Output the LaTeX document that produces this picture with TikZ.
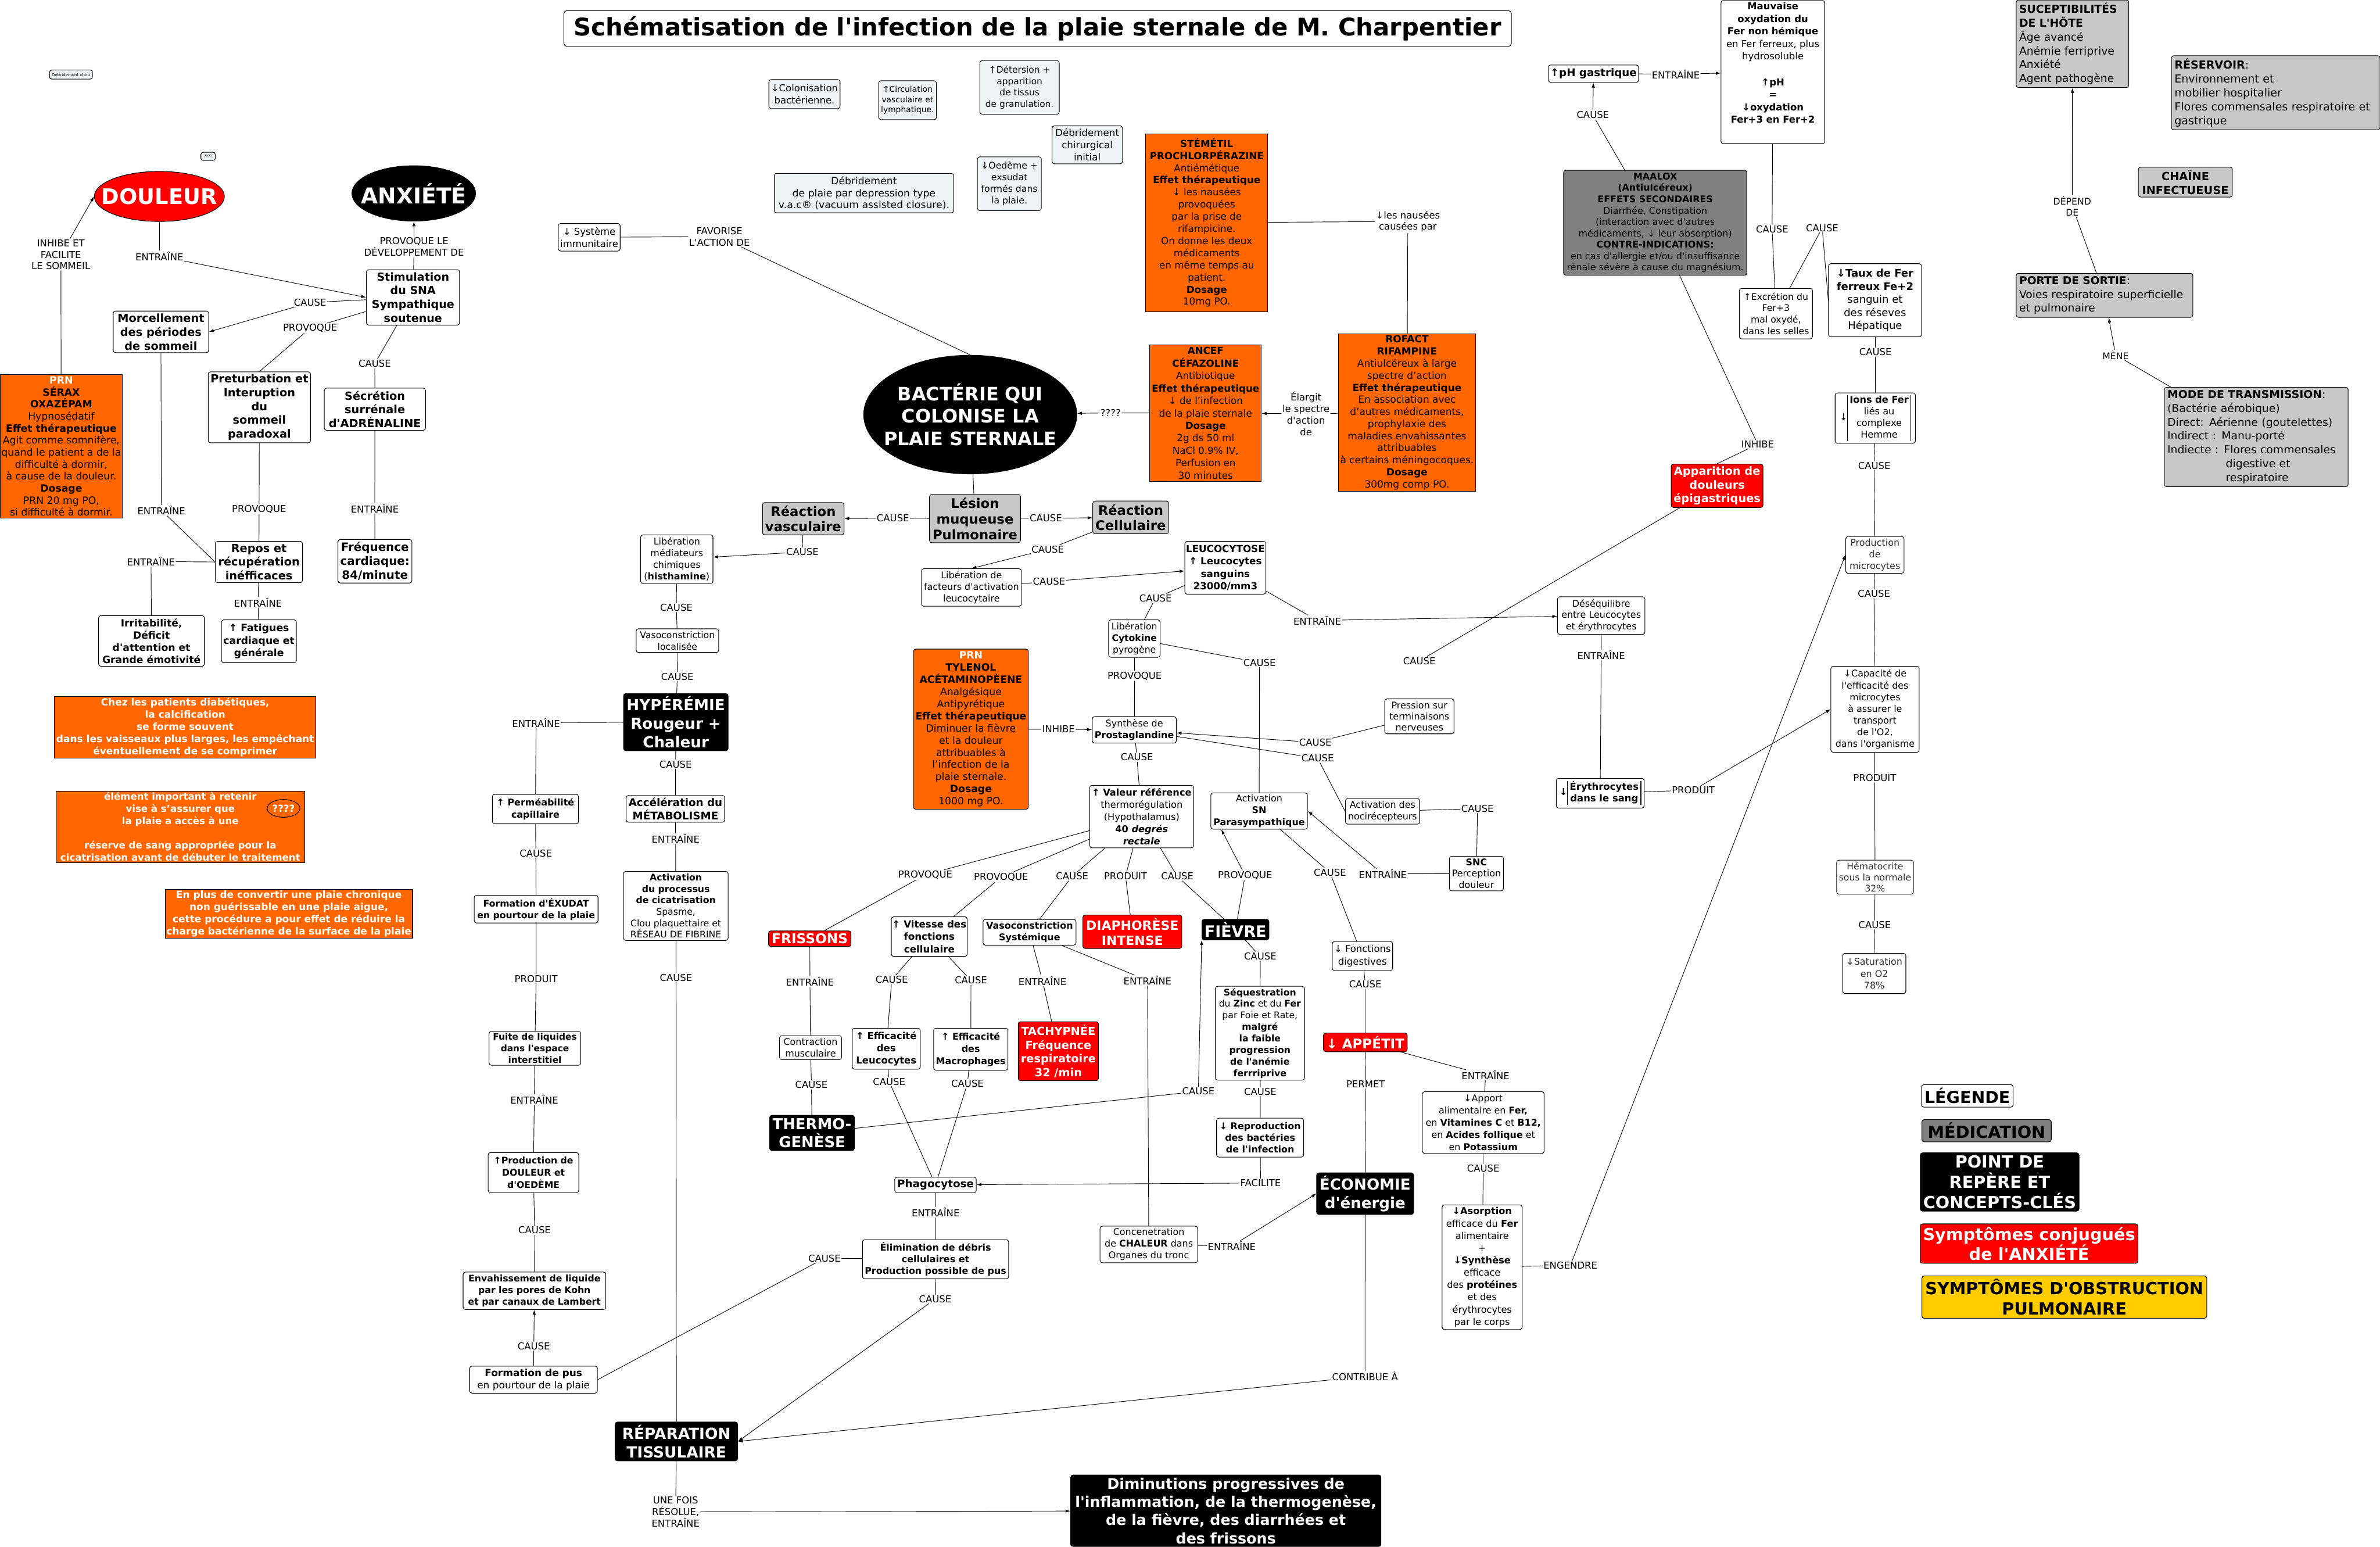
\documentclass[tikz,border=0pt]{standalone}
\usepackage{fontspec}
\setmainfont{DejaVu Sans}[Ligatures=TeXOff]
\usetikzlibrary{arrows.meta,shapes.geometric}
\newcommand\myfs[2]{\fontsize{#1}{#2}\selectfont}
\definecolor{orangeF}{HTML}{FF6600}
\definecolor{redF}{HTML}{FF0000}
\definecolor{grayC}{HTML}{C8C8C8}
\definecolor{grayD}{HTML}{808080}
\definecolor{lightbg}{HTML}{EEF4F6}
\definecolor{yellowF}{HTML}{FFCC00}
\definecolor{txtgray}{HTML}{333333}
\begin{document}
\begin{tikzpicture}[x=1pt,y=-1pt,
 box/.style={draw=black,line width=0.4pt,rounded corners=1.5pt,fill=white,inner sep=0.5pt,align=center},
 lbox/.style={box,fill=lightbg},
 gbox/.style={box,fill=grayC},
 obox/.style={box,fill=orangeF,rounded corners=0pt},
 kbox/.style={box,fill=black,text=white},
 rbox/.style={box,fill=redF,text=white},
 ell/.style={ellipse,draw=black,line width=0.4pt,inner ysep=0pt,inner xsep=-9pt,align=center},
 lab/.style={fill=white,inner sep=0.4pt,align=center,font=\myfs{6.3}{7.6}},
 con/.style={line width=0.35pt,draw=black},
 arr/.style={con,-{Latex[length=3.2pt,width=2.2pt]}}]
\useasboundingbox (0,0) rectangle (1568,1019);
\fill[white] (0,0) rectangle (1568,1019);

% ---------- title and tiny boxes
\node[box,rounded corners=2pt,minimum width=624.2,minimum height=23.6,font=\myfs{16}{19}\bfseries] (title) at (683.6,18.8) {Schématisation de l'infection de la plaie sternale de M. Charpentier};
\node[lbox,minimum width=28.3,minimum height=6.1,font=\myfs{2.7}{3.2}] (debchiru) at (46.8,49.1) {Débridement chiru};
\node[lbox,minimum width=9.5,minimum height=5.4,font=\myfs{2.5}{3}] (qqa) at (137.1,103) {????};

% ---------- ellipses
\node[ell,fill=redF,text=white,minimum width=85.7,minimum height=33,font=\myfs{14.1}{16}\bfseries] (douleur) at (105,129.4) {DOULEUR};
\node[ell,fill=black,text=white,minimum width=81.5,minimum height=36.5,font=\myfs{14.4}{16}\bfseries] (anxiete) at (272.6,127.4) {ANXIÉTÉ};
\node[ell,fill=black,text=white,minimum width=140.4,minimum height=78.2,font=\myfs{12.2}{14.8}\bfseries] (bact) at (639.2,273.1) {BACTÉRIE QUI\\COLONISE LA\\PLAIE STERNALE};

% ---------- left column
\node[box,minimum width=61.4,minimum height=36.5,font=\myfs{7.3}{9.1}\bfseries] (stim) at (272.1,195.9) {Stimulation\\du SNA\\Sympathique\\soutenue};
\node[box,minimum width=62.9,minimum height=27.4,font=\myfs{7.4}{9.1}\bfseries] (morc) at (106,218.6) {Morcellement\\des périodes\\de sommeil};
\node[box,minimum width=67.5,minimum height=46.7,font=\myfs{7.4}{9.1}\bfseries] (pret) at (170.9,268.3) {Preturbation et\\Interuption\\du\\sommeil\\paradoxal};
\node[box,minimum width=66.7,minimum height=27.8,font=\myfs{7.4}{9.1}\bfseries] (secr) at (247,269.6) {Sécrétion\\surrénale\\d'ADRÉNALINE};
\node[obox,minimum width=80.7,minimum height=94.8,font=\myfs{6.6}{7.9}] (prnserax) at (40.35,294) {\textcolor{white}{\textbf{PRN}}\\\textbf{SÉRAX}\\\textbf{OXAZÉPAM}\\Hypnosédatif\\\textbf{Effet thérapeutique}\\Agit comme somnifère,\\quand le patient a de la\\difficulté à dormir,\\à cause de la douleur.\\\textbf{Dosage}\\PRN 20 mg PO,\\si difficulté à dormir.};
\node[box,minimum width=57.4,minimum height=27.2,font=\myfs{7.4}{9.1}\bfseries] (repos) at (170.6,370.2) {Repos et\\récupération\\inéfficaces};
\node[box,minimum width=48.7,minimum height=28.7,font=\myfs{7.6}{9.1}\bfseries] (freq) at (247,369.7) {Fréquence\\cardiaque:\\84/minute};
\node[box,minimum width=69.7,minimum height=33.4,font=\myfs{6.6}{8}\bfseries] (irrit) at (99.8,422.2) {Irritabilité,\\Déficit\\d'attention et\\Grande émotivité};
\node[box,minimum width=49.4,minimum height=28.2,font=\myfs{6.6}{8.2}\bfseries] (fatig) at (170.6,422.4) {↑ Fatigues\\cardiaque et\\générale};
\node[obox,text=white,minimum width=172.2,minimum height=40.6,font=\myfs{6.5}{8}\bfseries] (note1) at (122,479) {Chez les patients diabétiques,\\la calcification\\se forme souvent\\dans les vaisseaux plus larges, les empêchant\\éventuellement de se comprimer};
\node[obox,text=white,minimum width=163.7,minimum height=47.1,font=\myfs{6.35}{8}\bfseries] (note2) at (118.8,544.6) {élément important à retenir\\vise à s’assurer que\\la plaie a accès à une\\[8pt]réserve de sang appropriée pour la\\cicatrisation avant de débuter le traitement};
\node[ellipse,draw=black,line width=0.4pt,inner sep=-3pt,minimum width=21.6,minimum height=11.7,text=white,font=\myfs{6.4}{7}\bfseries] (qqb) at (186.8,532.5) {????};
\node[obox,text=white,minimum width=163,minimum height=32.3,font=\myfs{6.5}{8}\bfseries] (note3) at (190.3,602) {En plus de convertir une plaie chronique\\non guérissable en une plaie aigue,\\cette procédure a pour effet de réduire la\\charge bactérienne de la surface de la plaie};

% ---------- top middle
\node[box,minimum width=40.7,minimum height=18.2,font=\myfs{6.3}{8}] (sys) at (388.2,156.3) {↓ Système\\immunitaire};
\node[lbox,minimum width=46.9,minimum height=19.1,font=\myfs{6.3}{8.2}] (colon) at (530,62) {↓Colonisation\\bactérienne.};
\node[lbox,minimum width=38.1,minimum height=25.6,font=\myfs{5.3}{6.8}] (circ) at (597.9,66) {↑Circulation\\vasculaire et\\lymphatique.};
\node[lbox,minimum width=52.3,minimum height=35.4,font=\myfs{5.9}{7.6}] (deters) at (671.7,57.6) {↑Détersion +\\apparition\\de tissus\\de granulation.};
\node[lbox,minimum width=46.4,minimum height=25,font=\myfs{6.4}{8}] (debinit) at (716.3,95.4) {Débridement\\chirurgical\\initial};
\node[lbox,minimum width=42.1,minimum height=35.4,font=\myfs{6}{7.6}] (oedeme) at (665,121) {↓Oedème +\\exsudat\\formés dans\\la plaie.};
\node[lbox,minimum width=118.1,minimum height=26,font=\myfs{6.6}{8}] (vac) at (569.2,127.2) {Débridement\\de plaie par depression type\\v.a.c® (vacuum assisted closure).};
\node[obox,minimum width=80.5,minimum height=117.1,font=\myfs{6.4}{8}] (stem) at (795,146.65) {\textbf{STÉMÉTIL}\\\textbf{PROCHLORPÉRAZINE}\\Antiémétique\\\textbf{Effet thérapeutique}\\↓ les nausées\\provoquées\\par la prise de\\rifampicine.\\On donne les deux\\médicaments\\en même temps au\\patient.\\\textbf{Dosage}\\10mg PO.};
\node[obox,minimum width=73.5,minimum height=90.1,font=\myfs{6.4}{8.2}] (ancef) at (794.25,272.15) {\textbf{ANCEF}\\\textbf{CÉFAZOLINE}\\Antibiotique\\\textbf{Effet thérapeutique}\\↓ de l’infection\\de la plaie sternale\\\textbf{Dosage}\\2g ds 50 ml\\NaCl 0.9\% IV,\\Perfusion en\\30 minutes};
\node[obox,minimum width=90.5,minimum height=103.8,font=\myfs{6.5}{7.95}] (rofact) at (926.95,271.8) {\textbf{ROFACT}\\\textbf{RIFAMPINE}\\Antiulcéreux à large\\spectre d’action\\\textbf{Effet thérapeutique}\\En association avec\\d’autres médicaments,\\prophylaxie des\\maladies envahissantes\\attribuables\\à certains méningocoques.\\\textbf{Dosage}\\300mg comp PO.};

% ---------- top right
\node[box,minimum width=59.4,minimum height=11.5,font=\myfs{7}{8}\bfseries] (ph) at (1049.8,48.55) {↑pH gastrique};
\node[box,minimum width=68.3,minimum height=94.3,font=\myfs{6.3}{8.2}] (mauv) at (1168,47.5) {\textbf{Mauvaise}\\\textbf{oxydation du}\\\textbf{Fer non hémique}\\en Fer ferreux, plus\\hydrosoluble\\[9pt]\textbf{↑pH}\\\textbf{=}\\\textbf{↓oxydation}\\\textbf{Fer+3 en Fer+2}\\[4pt]~};
\node[box,fill=grayD,minimum width=120.8,minimum height=69.1,font=\myfs{6.1}{7.5}] (maalox) at (1090.5,146.75) {\textbf{MAALOX}\\\textbf{(Antiulcéreux)}\\\textbf{EFFETS SECONDAIRES}\\Diarrhée, Constipation\\(interaction avec d'autres\\médicaments, ↓ leur absorption)\\\textbf{CONTRE-INDICATIONS:}\\en cas d'allergie et/ou d'insuffisance\\rénale sévère à cause du magnésium.};
\node[box,minimum width=48.3,minimum height=33.2,font=\myfs{6}{7.6}] (excr) at (1170,206.6) {↑Excrétion du\\Fer+3\\mal oxydé,\\dans les selles};
\node[box,minimum width=61.2,minimum height=48.2,font=\myfs{6.9}{8.6}] (taux) at (1235.3,197.8) {\textbf{↓Taux de Fer}\\\textbf{ferreux Fe+2}\\sanguin et\\des réseves\\Hépatique};
\node[box,minimum width=52.9,minimum height=33.2,font=\myfs{6.2}{7.6}] (ions) at (1235.45,275.4) {↓\setlength{\tabcolsep}{1.5pt}\begin{tabular}{|c|}\textbf{Ions de Fer}\\liés au\\complexe\\Hemme\end{tabular}};
\node[rbox,minimum width=60.5,minimum height=28.6,font=\myfs{7.4}{9.1}\bfseries] (appar) at (1131.25,320) {Apparition de\\douleurs\\épigastriques};
\node[gbox,text width=70.2,inner sep=2pt,minimum height=57.7,align=left,font=\myfs{7.2}{9.1}] (suscept) at (1365.4,28.85) {\textbf{SUCEPTIBILITÉS}\\\textbf{DE L'HÔTE}\\Âge avancé\\Anémie ferriprive\\Anxiété\\Agent pathogène};
\node[gbox,text width=133.4,inner sep=2pt,minimum height=48.8,align=left,font=\myfs{7.3}{9.1}] (reserv) at (1499.3,61.1) {\textbf{RÉSERVOIR}:\\Environnement et\\mobilier hospitalier\\Flores commensales respiratoire et\\gastrique};
\node[gbox,minimum width=61.9,minimum height=19.7,font=\myfs{7.4}{9.1}\bfseries] (chaine) at (1439.75,119.95) {CHAÎNE\\INFECTUEUSE};
\node[gbox,text width=112.4,inner sep=2pt,minimum height=28.7,align=left,font=\myfs{7.15}{9.1}] (porte) at (1386.5,194.55) {\textbf{PORTE DE SORTIE}:\\Voies respiratoire superficielle\\et pulmonaire};
\node[gbox,text width=117.1,inner sep=2pt,minimum height=65.1,align=left,font=\myfs{7.2}{9.1}] (mode) at (1486.45,287.85) {\textbf{MODE DE TRANSMISSION}:\\(Bactérie aérobique)\\Direct: Aérienne (goutelettes)\\Indirect : Manu-porté\\Indiecte : Flores commensales\\\hspace*{38.5pt}digestive et\\\hspace*{38.5pt}respiratoire};
\node[box,text=txtgray,minimum width=38.4,minimum height=24.3,font=\myfs{6.1}{7.6}] (prodmicro) at (1235.2,365.55) {Production\\de\\microcytes};
\node[box,minimum width=58.2,minimum height=56.7,font=\myfs{6.1}{7.7}] (capac) at (1235.3,467.25) {↓Capacité de\\l'efficacité des\\microcytes\\à assurer le\\transport\\de l'O2,\\dans l'organisme};
\node[box,text=txtgray,minimum width=50.6,minimum height=22.4,font=\myfs{6}{7.4}] (hemato) at (1235.3,577.8) {Hématocrite\\sous la normale\\32\%};
\node[box,text=txtgray,minimum width=41.6,minimum height=26.5,font=\myfs{6.1}{8}] (satur) at (1234.8,641.25) {↓Saturation\\en O2\\78\%};

% ---------- centre
\node[gbox,minimum width=59.9,minimum height=31.8,font=\myfs{8.7}{10.4}\bfseries] (lesion) at (642.35,341.6) {Lésion\\muqueuse\\Pulmonaire};
\node[gbox,minimum width=53.7,minimum height=21.3,font=\myfs{8.7}{10}\bfseries] (rvasc) at (529.2,341.7) {Réaction\\vasculaire};
\node[gbox,minimum width=49.9,minimum height=21.6,font=\myfs{8.7}{10}\bfseries] (rcell) at (744.9,340.8) {Réaction\\Cellulaire};
\node[box,minimum width=47.6,minimum height=32.1,font=\myfs{6.1}{7.6}] (lmed) at (445.9,368.35) {Libération\\médiateurs\\chimiques\\(\textbf{histhamine})};
\node[box,minimum width=54.4,minimum height=15.6,font=\myfs{6}{7.5}] (vasoloc) at (446.3,422) {Vasoconstriction\\localisée};
\node[kbox,minimum width=68.9,minimum height=37.6,font=\myfs{10}{12.2}\bfseries] (hyper) at (445.25,475.7) {HYPÉRÉMIE\\Rougeur +\\Chaleur};
\node[box,minimum width=64.9,minimum height=17.6,font=\myfs{7}{8.5}\bfseries] (accel) at (445,532.8) {Accélération du\\MÉTABOLISME};
\node[box,minimum width=68.9,minimum height=45.5,font=\myfs{6}{7.5}] (activ) at (445.25,596.75) {\textbf{Activation}\\\textbf{du processus}\\\textbf{de cicatrisation}\\Spasme,\\Clou plaquettaire et\\RÉSEAU DE FIBRINE};
\node[box,minimum width=56.7,minimum height=19.5,font=\myfs{6.1}{8.2}\bfseries] (perm) at (352.75,532.95) {↑ Perméabilité\\capillaire};
\node[box,minimum width=81.6,minimum height=18.2,font=\myfs{6}{7.6}\bfseries] (exud) at (353.2,598.9) {Formation d'ÉXUDAT\\en pourtour de la plaie};
\node[box,minimum width=60.4,minimum height=22.3,font=\myfs{5.9}{7.6}\bfseries] (fuite) at (352.4,690.55) {Fuite de liquides\\dans l'espace\\interstitiel};
\node[box,minimum width=59.7,minimum height=26.4,font=\myfs{6}{7.9}\bfseries] (prodoul) at (351.45,772.4) {↑Production de\\DOULEUR et\\d'OEDÈME};
\node[box,minimum width=94,minimum height=24.7,font=\myfs{6}{7.6}\bfseries] (envah) at (352.1,850.25) {Envahissement de liquide\\par les pores de Kohn\\et par canaux de Lambert};
\node[box,minimum width=84.2,minimum height=17.8,font=\myfs{6.5}{8}] (pus) at (351.5,908.8) {\textbf{Formation de pus}\\en pourtour de la plaie};
\node[box,minimum width=65.9,minimum height=24.7,font=\myfs{6.1}{7.6}] (lfact) at (640,387) {Libération de\\facteurs d'activation\\leucocytaire};
\node[box,minimum width=53.4,minimum height=34.8,font=\myfs{6.4}{8.2}\bfseries] (leuco) at (807.3,374) {LEUCOCYTOSE\\↑ Leucocytes\\sanguins\\23000/mm3};
\node[box,minimum width=33.9,minimum height=24.7,font=\myfs{6}{7.6}] (cyto) at (747.35,420.65) {Libération\\\textbf{Cytokine}\\pyrogène};
\node[box,minimum width=55.4,minimum height=17.4,font=\myfs{6.1}{7.6}] (synth) at (747.3,480.8) {Synthèse de\\\textbf{Prostaglandine}};
\node[box,rounded corners=1.5pt,fill=orangeF,minimum width=75.7,minimum height=105.5,font=\myfs{6.6}{8}] (tyl) at (639.65,480.35) {\textcolor{white}{\textbf{PRN}}\\\textbf{TYLENOL}\\\textbf{ACÉTAMINOPÈENE}\\Analgésique\\Antipyrétique\\\textbf{Effet thérapeutique}\\Diminuer la fièvre\\et la douleur\\attribuables à\\l’infection de la\\plaie sternale.\\\textbf{Dosage}\\1000 mg PO.};
\node[box,minimum width=68.5,minimum height=41.2,font=\myfs{6.2}{8}] (valeur) at (752.15,537.9) {\textbf{↑ Valeur référence}\\thermorégulation\\(Hypothalamus)\\\textbf{40 \textit{degrés}}\\\textbf{\textit{rectale}}};
\node[rbox,minimum width=54.4,minimum height=10.3,font=\myfs{8.9}{10}\bfseries] (frissons) at (533.5,618.35) {FRISSONS};
\node[box,minimum width=49.9,minimum height=26.1,font=\myfs{6.4}{8.2}\bfseries] (vitesse) at (612.25,616.95) {↑ Vitesse des\\fonctions\\cellulaire};
\node[box,minimum width=61.2,minimum height=17,font=\myfs{6.1}{7.8}\bfseries] (vasosys) at (678.3,614.1) {Vasoconstriction\\Systémique};
\node[rbox,minimum width=65.2,minimum height=22,font=\myfs{8.4}{10}\bfseries] (diaph) at (746,613.8) {DIAPHORÈSE\\INTENSE};
\node[kbox,minimum width=44.1,minimum height=13.5,font=\myfs{10.3}{12}\bfseries] (fievre) at (813.95,612.35) {FIÈVRE};
\node[box,minimum width=63.7,minimum height=23.9,font=\myfs{6.1}{7.8}] (activsn) at (829.55,534.25) {Activation\\\textbf{SN}\\\textbf{Parasympathique}};
\node[box,minimum width=45.6,minimum height=23,font=\myfs{6.1}{7.4}] (pression) at (935.1,471.9) {Pression sur\\terminaisons\\nerveuses};
\node[box,minimum width=48.9,minimum height=16.9,font=\myfs{6.1}{7.6}] (noci) at (910.85,534.45) {Activation des\\nocirécepteurs};
\node[box,minimum width=35.6,minimum height=22.8,font=\myfs{6.1}{7.6}] (snc) at (972.7,575.4) {\textbf{SNC}\\Perception\\douleur};
\node[box,minimum width=57.6,minimum height=24.8,font=\myfs{6.1}{7.6}] (deseq) at (1054.9,405.5) {Déséquilibre\\entre Leucocytes\\et érythrocytes};
\node[box,minimum width=57.9,minimum height=19.6,font=\myfs{6.3}{7.6}\bfseries] (erythro) at (1054.25,522.5) {↓\setlength{\tabcolsep}{1.5pt}\begin{tabular}{|c|}Érythrocytes\\dans le sang\end{tabular}};
\node[box,minimum width=39.8,minimum height=19.1,font=\myfs{6.3}{8.3}] (fonct) at (897.6,629.75) {↓ Fonctions\\digestives};
\node[box,minimum width=58.7,minimum height=61.8,font=\myfs{6}{7.6}] (sequest) at (830.05,680.6) {\textbf{Séquestration}\\du \textbf{Zinc} et du \textbf{Fer}\\par Foie et Rate,\\\textbf{malgré}\\\textbf{la faible}\\\textbf{progression}\\\textbf{de l'anémie}\\\textbf{ferrriprive}};
\node[box,minimum width=40.9,minimum height=15.8,font=\myfs{6.1}{7.6}] (contr) at (534,690.1) {Contraction\\musculaire};
\node[box,minimum width=44.8,minimum height=27,font=\myfs{6.3}{8}\bfseries] (effleu) at (583.9,690.8) {↑ Efficacité\\des\\Leucocytes};
\node[box,minimum width=48.9,minimum height=27.7,font=\myfs{6.1}{8}\bfseries] (effmac) at (639.55,691.15) {↑ Efficacité\\des\\Macrophages};
\node[rbox,minimum width=52.9,minimum height=38.9,font=\myfs{7.4}{9.1}\bfseries] (tachy) at (697.25,692.45) {TACHYPNÉE\\Fréquence\\respiratoire\\32 /min};
\node[kbox,minimum width=55.9,minimum height=23.2,font=\myfs{9.9}{11.8}\bfseries] (thermo) at (535,746.3) {THERMO-\\GENÈSE};
\node[box,minimum width=53.7,minimum height=10.2,font=\myfs{7}{8}\bfseries] (phago) at (616.35,780.5) {Phagocytose};
\node[box,minimum width=96.3,minimum height=25.8,font=\myfs{6.1}{7.6}\bfseries] (elim) at (616.35,829.5) {Élimination de débris\\cellulaires et\\Production possible de pus};
\node[box,minimum width=64.3,minimum height=24.1,font=\myfs{6.1}{7.6}] (conc) at (756.85,819.75) {Concenetration\\de \textbf{CHALEUR} dans\\Organes du tronc};
\node[kbox,minimum width=80.7,minimum height=25.6,font=\myfs{10.1}{12.1}\bfseries] (repar) at (445.65,949.5) {RÉPARATION\\TISSULAIRE};
\node[kbox,minimum width=204.4,minimum height=47.1,font=\myfs{9.7}{12}\bfseries] (dimin) at (807.6,995.15) {Diminutions progressives de\\l'inflammation, de la thermogenèse,\\de la fièvre, des diarrhées et\\des frissons};
\node[rbox,minimum width=55.2,minimum height=12.3,font=\myfs{8.8}{10}\bfseries] (appetit) at (899.5,686.65) {↓ APPÉTIT};
\node[kbox,minimum width=63.9,minimum height=27.4,font=\myfs{10}{12.3}\bfseries] (econ) at (899.35,786.3) {ÉCONOMIE\\d'énergie};
\node[box,minimum width=80.2,minimum height=40.7,font=\myfs{6.1}{8}] (apport) at (977.2,739.45) {↓Apport\\alimentaire en \textbf{Fer,}\\en \textbf{Vitamines C} et \textbf{B12,}\\en \textbf{Acides follique} et\\en \textbf{Potassium}};
\node[box,minimum width=52.7,minimum height=82.1,font=\myfs{6.2}{8.1}] (asorp) at (976.45,834.75) {\textbf{↓Asorption}\\efficace du \textbf{Fer}\\alimentaire\\+\\\textbf{↓Synthèse}\\efficace\\des \textbf{protéines}\\et des\\érythrocytes\\par le corps};
\node[box,minimum width=57.4,minimum height=25.6,font=\myfs{6.1}{7.8}\bfseries] (reprod) at (830.2,749.4) {↓ Reproduction\\des bactéries\\de l'infection};

% ---------- legend
\node[box,minimum width=60.4,minimum height=14.8,font=\myfs{10.9}{12}\bfseries] (leg1) at (1296.1,721.9) {LÉGENDE};
\node[box,fill=grayD,minimum width=85.2,minimum height=14.7,font=\myfs{11}{12}\bfseries] (leg2) at (1308.8,744.85) {MÉDICATION};
\node[kbox,minimum width=104.6,minimum height=38.4,font=\myfs{11}{13.3}\bfseries] (leg3) at (1317.4,778.6) {POINT DE\\REPÈRE ET\\CONCEPTS-CLÉS};
\node[rbox,minimum width=143.4,minimum height=26,font=\myfs{11}{13}\bfseries] (leg4) at (1336.8,819.2) {Symptômes conjugués\\de l'ANXIÉTÉ};
\node[box,fill=yellowF,minimum width=187.7,minimum height=27.9,font=\myfs{11}{13.4}\bfseries] (leg5) at (1360,854.45) {SYMPTÔMES D'OBSTRUCTION\\PULMONAIRE};

% ---------- link labels
\node[lab,font=\myfs{6.3}{7.4}] (Linhibe) at (40.1,167.8) {INHIBE ET\\FACILITE\\LE SOMMEIL};
\node[lab] (Lentr1) at (105,168.7) {ENTRAÎNE};
\node[lab] (Lprovdev) at (272.8,162.4) {PROVOQUE LE\\DÉVELOPPEMENT DE};
\node[lab] (Lcause1) at (204.3,199.3) {CAUSE};
\node[lab] (Lprov1) at (204.3,216.2) {PROVOQUE};
\node[lab] (Lcause2) at (246.9,239.5) {CAUSE};
\node[lab] (Lentr2) at (106.3,336.1) {ENTRAÎNE};
\node[lab] (Lprov2) at (170.7,335.4) {PROVOQUE};
\node[lab] (Lentr3) at (246.9,335) {ENTRAÎNE};
\node[lab] (Lentr4) at (99.5,369.9) {ENTRAÎNE};
\node[lab] (Lentr5) at (170,396.8) {ENTRAÎNE};
\node[lab] (Lfav) at (474,155.9) {FAVORISE\\L'ACTION DE};
\node[lab] (Lqq) at (731.7,272) {????};
\node[lab] (Lnaus) at (927.5,145.9) {↓les nausées\\causées par};
\node[lab] (Lelarg) at (860.4,272.5) {Élargit\\le spectre\\d'action\\de};
\node[lab] (Lcausel) at (588.3,341.4) {CAUSE};
\node[lab] (Lcauser) at (689,341.4) {CAUSE};
\node[lab] (Lcause3) at (528.6,363.6) {CAUSE};
\node[lab] (Lcause4) at (445.6,400.3) {CAUSE};
\node[lab] (Lcause5) at (446.2,445.6) {CAUSE};
\node[lab] (Lentr6) at (353.2,476) {ENTRAÎNE};
\node[lab] (Lcause6) at (445.1,503.4) {CAUSE};
\node[lab] (Lentr7) at (445.1,552.5) {ENTRAÎNE};
\node[lab] (Lcause7) at (445.4,643.9) {CAUSE};
\node[lab] (Lcause8) at (353,562) {CAUSE};
\node[lab] (Lprod1) at (353.2,644.7) {PRODUIT};
\node[lab] (Lentr8) at (352,724.3) {ENTRAÎNE};
\node[lab] (Lcause9) at (352.2,810.4) {CAUSE};
\node[lab] (Lcause10) at (351.7,886.7) {CAUSE};
\node[lab] (Lcause11) at (690.3,361.8) {CAUSE};
\node[lab] (Lcause12) at (691.1,383.1) {CAUSE};
\node[lab] (Lcause13) at (761.3,394) {CAUSE};
\node[lab] (Lprov3) at (747.5,445.2) {PROVOQUE};
\node[lab] (Lcause14) at (829.8,436.5) {CAUSE};
\node[lab] (Linhibe2) at (697.4,480.4) {INHIBE};
\node[lab] (Lentr9) at (867.9,408.7) {ENTRAÎNE};
\node[lab] (Lcause15) at (935.1,435.4) {CAUSE};
\node[lab] (Lcause16) at (866.6,489.1) {CAUSE};
\node[lab] (Lcause17) at (868.1,499.5) {CAUSE};
\node[lab] (Lcause18) at (749,498.8) {CAUSE};
\node[lab] (Lprov4) at (609.6,576.3) {PROVOQUE};
\node[lab] (Lprov5) at (659.5,577.9) {PROVOQUE};
\node[lab] (Lcause19) at (706.4,577.2) {CAUSE};
\node[lab] (Lprod2) at (741.5,577) {PRODUIT};
\node[lab] (Lcause20) at (775.6,577.2) {CAUSE};
\node[lab] (Lentr10) at (533.6,646.5) {ENTRAÎNE};
\node[lab] (Lcause21) at (587.5,645.4) {CAUSE};
\node[lab] (Lcause22) at (639.7,645.8) {CAUSE};
\node[lab] (Lentr11) at (686.8,646) {ENTRAÎNE};
\node[lab] (Lentr12) at (756,645.8) {ENTRAÎNE};
\node[lab] (Lcause23) at (534.6,714.7) {CAUSE};
\node[lab] (Lcause24) at (585.8,712.6) {CAUSE};
\node[lab] (Lcause25) at (637.4,713.7) {CAUSE};
\node[lab] (Lcause26) at (789.5,718.9) {CAUSE};
\node[lab] (Lentr13) at (616.4,798.6) {ENTRAÎNE};
\node[lab] (Lcause27) at (543.2,828.8) {CAUSE};
\node[lab] (Lcause28) at (616.1,855.7) {CAUSE};
\node[lab] (Lunefois) at (445.1,995.9) {UNE FOIS\\RÉSOLUE,\\ENTRAÎNE};
\node[lab] (Lfac) at (830.5,779.3) {FACILITE};
\node[lab] (Lentr14) at (811.5,820.8) {ENTRAÎNE};
\node[lab] (Lcontrib) at (899.3,906.6) {CONTRIBUE À};
\node[lab] (Lprov6) at (820.3,576.6) {PROVOQUE};
\node[lab] (Lcause29) at (876.2,574.8) {CAUSE};
\node[lab] (Lentr15) at (911,575.7) {ENTRAÎNE};
\node[lab] (Lcause30) at (973.4,532.7) {CAUSE};
\node[lab] (Lcause31) at (830.3,630) {CAUSE};
\node[lab] (Lcause32) at (899.5,648.4) {CAUSE};
\node[lab] (Lcause33) at (830.3,719.1) {CAUSE};
\node[lab] (Lpermet) at (899.7,714.1) {PERMET};
\node[lab] (Lentr16) at (978.7,708.2) {ENTRAÎNE};
\node[lab] (Lcause34) at (977.2,769.6) {CAUSE};
\node[lab] (Leng) at (1034.6,833.5) {ENGENDRE};
\node[lab] (Lentr17) at (1054.9,431.5) {ENTRAÎNE};
\node[lab] (Lprod3) at (1115.6,520.5) {PRODUIT};
\node[lab] (Lcause35) at (1049.4,75.8) {CAUSE};
\node[lab] (Lentr18) at (1104,48.8) {ENTRAÎNE};
\node[lab] (Linhibe3) at (1158,292.6) {INHIBE};
\node[lab] (Lcause36) at (1167.5,150.9) {CAUSE};
\node[lab] (Lcause37) at (1200.5,150.2) {CAUSE};
\node[lab] (Lcause38) at (1235.6,231.9) {CAUSE};
\node[lab] (Lcause39) at (1234.8,306.8) {CAUSE};
\node[lab] (Lcause40) at (1234.6,391.2) {CAUSE};
\node[lab] (Lprod4) at (1235.1,512.5) {PRODUIT};
\node[lab] (Lcause41) at (1235.1,609.3) {CAUSE};
\node[lab,font=\myfs{6}{7.4}] (Ldep) at (1365.2,135.7) {DÉPEND\\DE};
\node[lab,font=\myfs{6}{7.4}] (Lmene) at (1393.8,233.8) {MÈNE};

% ---------- connectors
\draw[con] (prnserax) -- (Linhibe); \draw[arr] (Linhibe) -- (douleur.west);
\draw[con] (douleur) -- (Lentr1); \draw[arr] (Lentr1) -- (stim.west);
\draw[con] (stim) -- (Lprovdev); \draw[arr] (Lprovdev) -- (anxiete);
\draw[con] (stim) -- (Lcause1); \draw[arr] (Lcause1) -- (morc.east);
\draw[con] (stim) -- (Lprov1) -- (pret.north);
\draw[con] (stim) -- (Lcause2) -- (secr);
\draw[con] (morc) -- (Lentr2) -- (repos.west);
\draw[con] (pret) -- (Lprov2) -- (repos);
\draw[con] (secr) -- (Lentr3) -- (freq);
\draw[con] (repos.west) -- (Lentr4) -- (irrit);
\draw[con] (repos) -- (Lentr5) -- (fatig);
\draw[con] (sys) -- (Lfav) -- (bact.north);
\draw[con] (stem) -- (Lnaus) -- (rofact);
\draw[con] (rofact) -- (Lelarg); \draw[arr] (Lelarg) -- (ancef);
\draw[con] (ancef) -- (Lqq); \draw[arr] (Lqq) -- (bact);
\draw[con] (bact) -- (lesion);
\draw[con] (lesion) -- (Lcausel); \draw[arr] (Lcausel) -- (rvasc);
\draw[con] (lesion) -- (Lcauser); \draw[arr] (Lcauser) -- (rcell);
\draw[con] (rvasc) -- (Lcause3); \draw[arr] (Lcause3) -- (lmed);
\draw[con] (lmed) -- (Lcause4) -- (vasoloc) -- (Lcause5) -- (hyper);
\draw[con] (hyper) -- (Lentr6) -- (perm);
\draw[con] (hyper) -- (Lcause6) -- (accel) -- (Lentr7) -- (activ) -- (Lcause7) -- (repar);
\draw[con] (perm) -- (Lcause8) -- (exud) -- (Lprod1) -- (fuite) -- (Lentr8) -- (prodoul) -- (Lcause9) -- (envah);
\draw[con] (pus) -- (Lcause10); \draw[arr] (Lcause10) -- (envah);
\draw[con] (rcell) -- (Lcause11); \draw[arr] (Lcause11) -- (lfact.north);
\draw[con] (lfact) -- (Lcause12); \draw[arr] (Lcause12) -- (leuco);
\draw[con] (leuco) -- (Lcause13) -- (cyto);
\draw[con] (cyto) -- (Lprov3) -- (synth);
\draw[con] (cyto) -- (Lcause14) -- (activsn);
\draw[con] (tyl) -- (Linhibe2); \draw[arr] (Linhibe2) -- (synth);
\draw[con] (leuco) -- (Lentr9); \draw[arr] (Lentr9) -- (deseq);
\draw[con] (appar) -- (Lcause15);
\draw[con] (pression) -- (Lcause16); \draw[arr] (Lcause16) -- (synth);
\draw[con] (noci.west) -- (Lcause17) -- (synth);
\draw[con] (synth) -- (Lcause18) -- (valeur);
\draw[con] (valeur) -- (Lprov4) -- (frissons);
\draw[con] (valeur) -- (Lprov5) -- (vitesse);
\draw[con] (valeur) -- (Lcause19) -- (vasosys);
\draw[con] (valeur) -- (Lprod2) -- (diaph);
\draw[con] (valeur) -- (Lcause20) -- (fievre);
\draw[con] (frissons) -- (Lentr10) -- (contr);
\draw[con] (vitesse) -- (Lcause21) -- (effleu);
\draw[con] (vitesse) -- (Lcause22) -- (effmac);
\draw[con] (vasosys) -- (Lentr11) -- (tachy);
\draw[con] (vasosys) -- (Lentr12) -- (conc);
\draw[con] (contr) -- (Lcause23) -- (thermo);
\draw[con] (effleu) -- (Lcause24) -- (phago);
\draw[con] (effmac) -- (Lcause25) -- (phago);
\draw[con] (thermo) -- (Lcause26); \draw[arr] (Lcause26) -- (fievre.south west);
\draw[con] (phago) -- (Lentr13) -- (elim);
\draw[con] (elim) -- (Lcause27) -- (pus.east);
\draw[con] (elim) -- (Lcause28); \draw[arr] (Lcause28) -- (repar.east);
\draw[con] (repar) -- (Lunefois); \draw[arr] (Lunefois) -- (dimin);
\draw[con] (reprod) -- (Lfac); \draw[arr] (Lfac) -- (phago);
\draw[con] (conc) -- (Lentr14); \draw[arr] (Lentr14) -- (econ.west);
\draw[con] (econ) -- (Lcontrib); \draw[arr] (Lcontrib) -- (repar.east);
\draw[con] (fievre) -- (Lprov6); \draw[arr] (Lprov6) -- (activsn.206);
\draw[con] (activsn) -- (Lcause29) -- (fonct);
\draw[con] (snc) -- (Lentr15); \draw[arr] (Lentr15) -- (activsn.east);
\draw[con] (noci) -- (Lcause30) -- (snc);
\draw[con] (fievre) -- (Lcause31) -- (sequest);
\draw[con] (fonct) -- (Lcause32) -- (appetit);
\draw[con] (sequest) -- (Lcause33) -- (reprod);
\draw[con] (appetit) -- (Lpermet) -- (econ);
\draw[con] (appetit) -- (Lentr16) -- (apport);
\draw[con] (apport) -- (Lcause34) -- (asorp);
\draw[con] (asorp) -- (Leng); \draw[arr] (Leng) -- (prodmicro.west);
\draw[con] (deseq) -- (Lentr17) -- (erythro);
\draw[con] (erythro) -- (Lprod3); \draw[arr] (Lprod3) -- (capac.west);
\draw[con] (maalox) -- (Lcause35); \draw[arr] (Lcause35) -- (ph);
\draw[con] (ph) -- (Lentr18); \draw[arr] (Lentr18) -- (mauv);
\draw[con] (maalox) -- (Linhibe3) -- (appar.north);
\draw[con] (mauv) -- (Lcause36) -- (excr);
\draw[con] (excr) -- (Lcause37) -- (taux.west);
\draw[con] (taux) -- (Lcause38) -- (ions);
\draw[con] (ions) -- (Lcause39) -- (prodmicro) -- (Lcause40) -- (capac) -- (Lprod4) -- (hemato) -- (Lcause41) -- (satur);
\draw[con] (porte) -- (Ldep); \draw[arr] (Ldep) -- (suscept);
\draw[con] (mode) -- (Lmene); \draw[arr] (Lmene) -- (porte);
\end{tikzpicture}
\end{document}
